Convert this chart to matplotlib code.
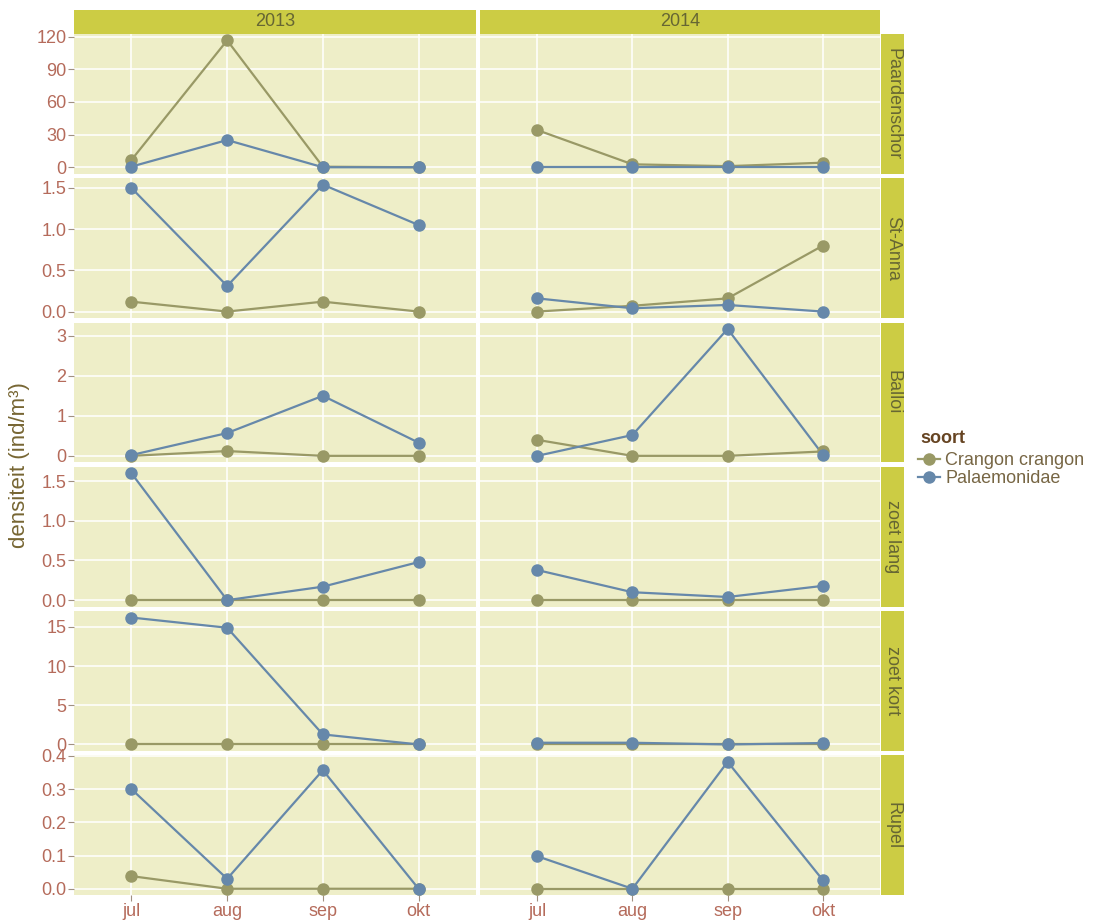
import matplotlib
matplotlib.use("Agg")
import matplotlib.pyplot as plt
from matplotlib.lines import Line2D

plt.rcParams['font.family'] = ['Liberation Sans', 'DejaVu Sans']

months = ["jul", "aug", "sep", "okt"]
years = ["2013", "2014"]
locations = ["Paardenschor", "St-Anna", "Balloi", "zoet lang", "zoet kort", "Rupel"]
species = ["Crangon crangon", "Palaemonidae"]

crangon_2013 = {
    "Paardenschor": [6.7, 116.6, 0.5, 0.0],
    "St-Anna": [0.12, 0.0, 0.12, 0.0],
    "Balloi": [0.0, 0.12, 0.0, 0.0],
    "zoet lang": [0.0, 0.0, 0.0, 0.0],
    "zoet kort": [0.0, 0.0, 0.0, 0.0],
    "Rupel": [0.038, 0.0, 0.0, 0.0],
}
palaemon_2013 = {
    "Paardenschor": [0.6, 25.0, 0.0, 0.0],
    "St-Anna": [1.50, 0.31, 1.54, 1.05],
    "Balloi": [0.02, 0.57, 1.50, 0.33],
    "zoet lang": [1.60, 0.0, 0.17, 0.48],
    "zoet kort": [16.2, 14.9, 1.28, 0.0],
    "Rupel": [0.30, 0.03, 0.357, 0.0],
}
crangon_2014 = {
    "Paardenschor": [34.2, 2.7, 1.0, 4.2],
    "St-Anna": [0.0, 0.07, 0.16, 0.80],
    "Balloi": [0.40, 0.0, 0.0, 0.11],
    "zoet lang": [0.0, 0.0, 0.0, 0.0],
    "zoet kort": [0.0, 0.0, 0.0, 0.0],
    "Rupel": [0.0, 0.0, 0.0, 0.0],
}
palaemon_2014 = {
    "Paardenschor": [0.0, 0.0, 0.0, 0.0],
    "St-Anna": [0.16, 0.04, 0.08, 0.0],
    "Balloi": [0.0, 0.52, 3.17, 0.03],
    "zoet lang": [0.38, 0.10, 0.04, 0.18],
    "zoet kort": [0.22, 0.22, 0.0, 0.18],
    "Rupel": [0.098, 0.0, 0.382, 0.026],
}

yticks = {
    "Paardenschor": [0, 30, 60, 90, 120],
    "St-Anna": [0.0, 0.5, 1.0, 1.5],
    "Balloi": [0, 1, 2, 3],
    "zoet lang": [0.0, 0.5, 1.0, 1.5],
    "zoet kort": [0, 5, 10, 15],
    "Rupel": [0.0, 0.1, 0.2, 0.3, 0.4],
}
yfmt = {
    "Paardenschor": "{:.0f}", "St-Anna": "{:.1f}", "Balloi": "{:.0f}",
    "zoet lang": "{:.1f}", "zoet kort": "{:.0f}", "Rupel": "{:.1f}",
}

data = {"2013": (crangon_2013, palaemon_2013), "2014": (crangon_2014, palaemon_2014)}

col_crangon = "#999966"
col_palaemon = "#6688aa"
panel_bg = "#eeeec8"
strip_bg = "#cccc44"
strip_txt = "#666633"
tick_txt = "#b56b5b"
title_txt = "#776633"

FS = 13

W, H = 1097, 922
fig = plt.figure(figsize=(W / 100, H / 100), dpi=100)

col_x = [(74, 476), (480, 880)]
row_top0 = 34
row_h = 139.6
row_gap = 4.7
strip_top = 10
strip_right = (881, 904)


def fb(x0, y0, x1, y1):
    return [x0 / W, 1 - y1 / H, (x1 - x0) / W, (y1 - y0) / H]


xpos = list(range(len(months)))
for r, loc in enumerate(locations):
    y0 = row_top0 + r * (row_h + row_gap)
    y1 = y0 + row_h
    row_axes = []
    for c, yr in enumerate(years):
        x0, x1 = col_x[c]
        ax = fig.add_axes(fb(x0, y0, x1, y1), sharey=row_axes[0] if row_axes else None)
        row_axes.append(ax)
        ax.set_facecolor(panel_bg)
        for s in ax.spines.values():
            s.set_visible(False)
        cr, pa = data[yr]
        ax.plot(xpos, cr[loc], color=col_crangon, lw=1.6, zorder=3, solid_capstyle='round')
        ax.plot(xpos, pa[loc], color=col_palaemon, lw=1.6, zorder=3, solid_capstyle='round')
        ax.plot(xpos, cr[loc], 'o', color=col_crangon, ms=9, mew=0, zorder=4)
        ax.plot(xpos, pa[loc], 'o', color=col_palaemon, ms=9, mew=0, zorder=5)
        ax.set_xlim(-0.6, len(months) - 0.4)
        ax.set_xticks(xpos)
        ticks = yticks[loc]
        ax.set_yticks(ticks)
        ax.grid(True, which='major', color='white', lw=1.1, zorder=1)
        ax.set_axisbelow(True)
        if c == 0:
            ax.set_yticklabels([yfmt[loc].format(t) for t in ticks])
            ax.tick_params(axis='y', which='major', length=4, color='#a09080', labelcolor=tick_txt,
                           labelsize=FS, pad=1.5)
        else:
            ax.tick_params(axis='y', which='major', length=0, labelleft=False)
        if r == len(locations) - 1:
            ax.set_xticklabels(months)
            ax.tick_params(axis='x', which='major', length=4, color='#a09080', labelcolor=tick_txt,
                           labelsize=FS, pad=1.5)
        else:
            ax.tick_params(axis='x', which='major', length=0, labelbottom=False)
    ymax = max(max(data[yr][0][loc] + data[yr][1][loc]) for yr in years)
    ymin = min(min(data[yr][0][loc] + data[yr][1][loc]) for yr in years)
    rng = ymax - ymin
    row_axes[0].set_ylim(ymin - 0.05 * rng, ymax + 0.05 * rng)
    sax = fig.add_axes(fb(strip_right[0], y0, strip_right[1], y1))
    sax.set_facecolor(strip_bg)
    sax.set_xticks([]); sax.set_yticks([])
    for s in sax.spines.values():
        s.set_visible(False)
    sax.text(0.5, 0.5, loc, rotation=270, ha='center', va='center', color=strip_txt,
             fontsize=FS, transform=sax.transAxes)

for c, yr in enumerate(years):
    x0, x1 = col_x[c]
    sax = fig.add_axes(fb(x0, strip_top, x1, row_top0))
    sax.set_facecolor(strip_bg)
    sax.set_xticks([]); sax.set_yticks([])
    for s in sax.spines.values():
        s.set_visible(False)
    sax.text(0.5, 0.5, yr, ha='center', va='center', color=strip_txt, fontsize=FS,
             transform=sax.transAxes)

fig.text(20 / W, 1 - 465 / H, "densiteit (ind/m³)", rotation=90, ha='center', va='center',
         color=title_txt, fontsize=16)

# legend title
fig.text(920 / W, 1 - 438 / H, "soort", ha='left', va='center', fontsize=FS,
         fontweight='bold', color='#664422')

handles = [Line2D([0], [0], color=col_crangon, lw=1.6, marker='o', ms=9, mew=0),
           Line2D([0], [0], color=col_palaemon, lw=1.6, marker='o', ms=9, mew=0)]
leg = fig.legend(handles, species, loc='upper left',
                 bbox_to_anchor=(918 / W, 1 - 452 / H), frameon=False,
                 fontsize=FS, handlelength=1.2, handletextpad=0.3,
                 labelspacing=0.05, borderaxespad=0, borderpad=0)
for t in leg.get_texts():
    t.set_color('#776644')

fig.savefig("out.png", dpi=100)
